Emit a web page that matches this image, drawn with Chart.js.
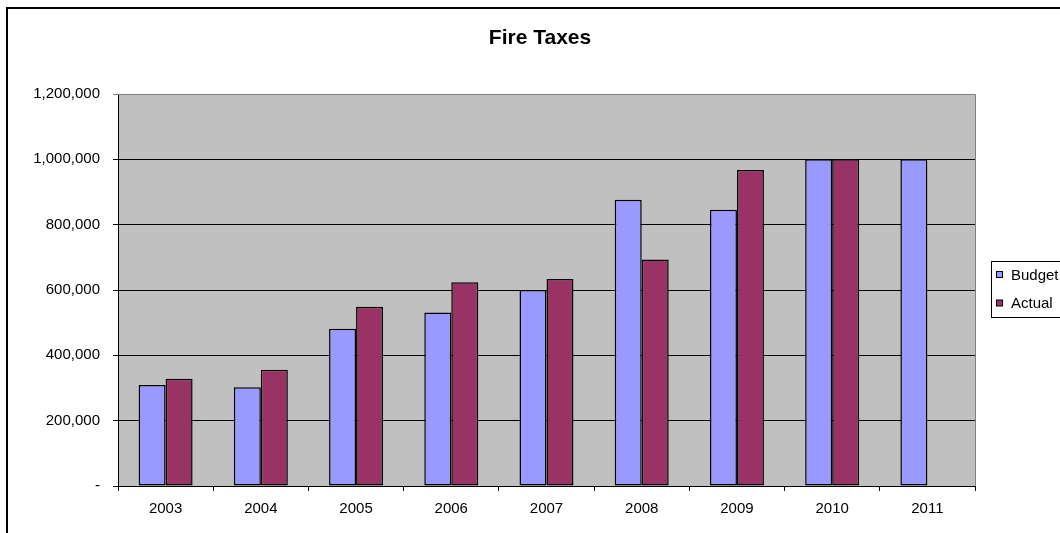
<!DOCTYPE html>
<html>
<head>
<meta charset="utf-8">
<title>Fire Taxes</title>
<script src="https://cdn.jsdelivr.net/npm/chart.js@4/dist/chart.umd.min.js"></script>
<style>
  body { margin: 0; background: #fff; }
  canvas { display: block; }
</style>
</head>
<body>
<canvas id="myChart" width="1060" height="533"></canvas>
<script>
var years = ["2003", "2004", "2005", "2006", "2007", "2008", "2009", "2010", "2011"];
var budget = [309000, 302000, 481000, 531000, 600000, 876000, 846000, 1000000, 1000000];
var actual = [328000, 356000, 549000, 624000, 634000, 693000, 967000, 1000000, null];
var seriesNames = ["Budget", "Actual"];
var seriesColors = ["#9999FF", "#993366"];
var chartTitle = "Fire Taxes";

var font = "Arial, 'Liberation Sans', sans-serif";

// grey plot background, grey frame on top/right, outer border, title, legend
var excelLook = {
  id: "excelLook",
  beforeDraw: function (chart) {
    var a = chart.chartArea;
    var c = chart.ctx;
    c.save();
    c.strokeStyle = "#000";
    c.lineWidth = 2;
    c.strokeRect(7, 8, 1200, 700);
    c.fillStyle = "#C0C0C0";
    c.fillRect(a.left, a.top, a.right - a.left, a.bottom - a.top);
    // title centred on the whole chart
    c.fillStyle = "#000";
    c.font = "bold 21px " + font;
    c.textAlign = "center";
    c.textBaseline = "alphabetic";
    c.fillText(chartTitle, 540, 44);
    c.restore();
  },
  afterDraw: function (chart) {
    var a = chart.chartArea;
    var c = chart.ctx;
    c.save();
    c.strokeStyle = "#808080";
    c.lineWidth = 1;
    c.beginPath();
    c.moveTo(a.left, a.top + 0.5);
    c.lineTo(a.right + 0.5, a.top + 0.5);
    c.lineTo(a.right + 0.5, a.bottom);
    c.stroke();

    // legend
    c.fillStyle = "#fff";
    c.fillRect(991.5, 261.5, 100, 56);
    c.strokeStyle = "#000";
    c.strokeRect(991.5, 261.5, 100, 56);
    c.font = "15px " + font;
    c.textBaseline = "middle";
    var ys = [274.5, 303];
    for (var i = 0; i < seriesNames.length; i++) {
      c.fillStyle = seriesColors[i];
      c.fillRect(996.5, ys[i] - 3, 6, 6);
      c.strokeRect(996.5, ys[i] - 3, 6, 6);
      c.fillStyle = "#000";
      c.fillText(seriesNames[i], 1011, ys[i] + 1);
    }
    c.restore();
  }
};

var ctx = document.getElementById("myChart").getContext("2d");
var myChart = new Chart(ctx, {
  type: "bar",
  data: {
    labels: years,
    datasets: [{
      label: seriesNames[0],
      data: budget,
      backgroundColor: seriesColors[0],
      borderColor: "#000",
      borderWidth: 1.5,
      borderSkipped: false
    }, {
      label: seriesNames[1],
      data: actual,
      backgroundColor: seriesColors[1],
      borderColor: "#000",
      borderWidth: 1.5,
      borderSkipped: false
    }]
  },
  options: {
    responsive: false,
    animation: false,
    layout: { padding: { left: 7, right: 85, top: 94, bottom: 7 } },
    datasets: { bar: { categoryPercentage: 0.567, barPercentage: 1 } },
    plugins: {
      legend: { display: false },
      tooltip: { enabled: false },
      title: { display: false }
    },
    scales: {
      x: {
        offset: true,
        grid: { offset: true, drawOnChartArea: false, drawTicks: true, tickLength: 5, color: "#000" },
        border: { color: "#000" },
        ticks: { color: "#000", padding: 9, font: { family: font, size: 15 }, maxRotation: 0 },
        afterFit: function (scale) { scale.height = 40; }
      },
      y: {
        min: 0,
        max: 1200000,
        grid: {
          color: function (g) { return g.tick && g.tick.value === 1200000 ? "#808080" : "#000"; },
          tickLength: 5
        },
        border: { color: "#000" },
        ticks: {
          stepSize: 200000,
          color: "#000",
          padding: 13,
          font: { family: font, size: 15 },
          callback: function (v) { return v === 0 ? "-" : v.toLocaleString("en-US"); }
        },
        afterFit: function (scale) { scale.width = 111; }
      }
    }
  },
  plugins: [excelLook]
});
</script>
</body>
</html>
